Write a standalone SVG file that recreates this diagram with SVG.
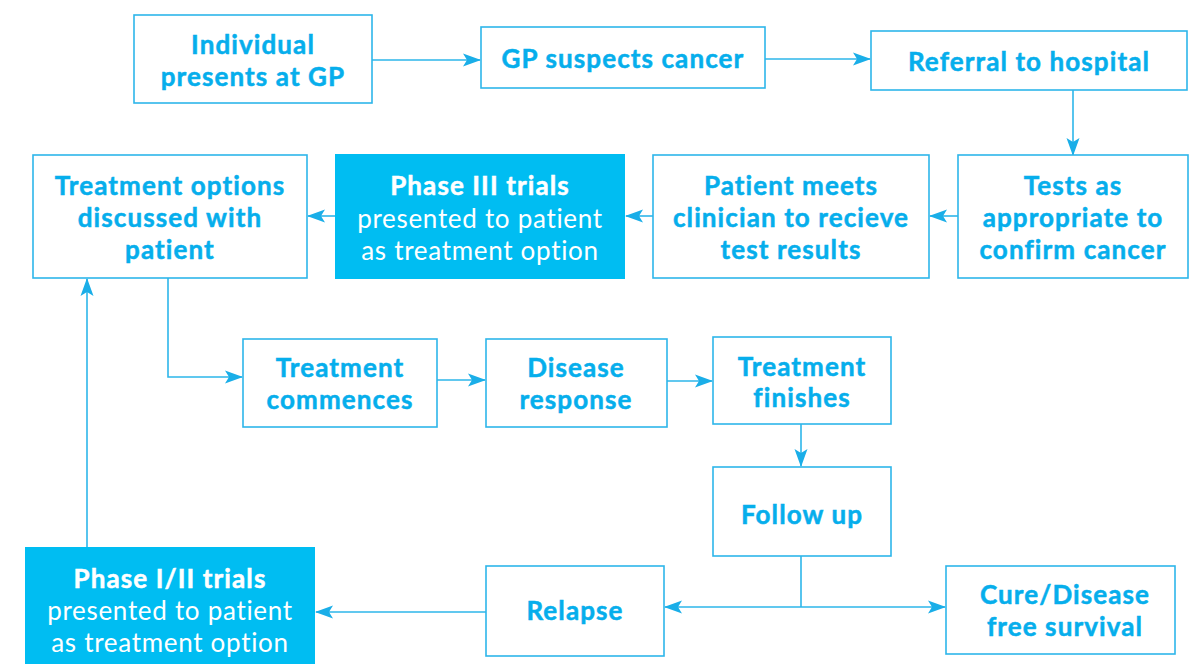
<svg xmlns="http://www.w3.org/2000/svg" width="1195" height="664" viewBox="0 0 1195 664">
  <style>
    .box { fill: #ffffff; stroke: #2db6ea; stroke-width: 1.6; }
    .hl { fill: #00bdf2; stroke: none; }
    .t { font-family: Lato, "Open Sans", "Liberation Sans", sans-serif; font-size: 26px; font-weight: 700; letter-spacing: 1.1px; fill: #06aeec; stroke: #06aeec; stroke-width: 0.5px; text-anchor: middle; }
    .w { font-family: Lato, "Open Sans", "Liberation Sans", sans-serif; font-size: 26px; fill: #ffffff; text-anchor: middle; }
    .wb { font-weight: 700; letter-spacing: 1.1px; stroke: #ffffff; stroke-width: 0.5px; }
    .wr { font-weight: 400; letter-spacing: 0.7px; }
    .line { fill: none; stroke: #2db6ea; stroke-width: 1.6; }
  </style>
  <defs>
    <marker id="arrow" markerUnits="userSpaceOnUse" markerWidth="18" markerHeight="14" refX="17" refY="7" orient="auto-start-reverse">
      <path d="M0,0.5 L18,7 L0,13.5 L4,7 Z" fill="#1aaee8"/>
    </marker>
  </defs>

  <rect width="1195" height="664" fill="#ffffff"/>

  <!-- connectors -->
  <g id="connectors">
    <path class="line" d="M372,60 H480" marker-end="url(#arrow)"/>
    <path class="line" d="M765,59 H870" marker-end="url(#arrow)"/>
    <path class="line" d="M1073,90 V155" marker-end="url(#arrow)"/>
    <path class="line" d="M958,216 H930" marker-end="url(#arrow)"/>
    <path class="line" d="M653,216 H626" marker-end="url(#arrow)"/>
    <path class="line" d="M335,216 H308" marker-end="url(#arrow)"/>
    <path class="line" d="M168,278 V377 H242" marker-end="url(#arrow)"/>
    <path class="line" d="M437,380 H485" marker-end="url(#arrow)"/>
    <path class="line" d="M667,381 H712" marker-end="url(#arrow)"/>
    <path class="line" d="M801,424 V466" marker-end="url(#arrow)"/>
    <path class="line" d="M801,556 V607"/>
    <path class="line" d="M665,607 H945" marker-start="url(#arrow)" marker-end="url(#arrow)"/>
    <path class="line" d="M486,612 H316" marker-end="url(#arrow)"/>
    <path class="line" d="M87,547 V279" marker-end="url(#arrow)"/>
  </g>

  <g id="individual-presents">
    <rect class="box" x="134" y="15" width="238" height="88"/>
    <text class="t" x="253" y="54">Individual</text>
    <text class="t" x="253" y="86">presents at GP</text>
  </g>

  <g id="gp-suspects">
    <rect class="box" x="481" y="27" width="284" height="61"/>
    <text class="t" x="623" y="68">GP suspects cancer</text>
  </g>

  <g id="referral">
    <rect class="box" x="871" y="31" width="316" height="59"/>
    <text class="t" x="1029" y="71">Referral to hospital</text>
  </g>

  <g id="tests">
    <rect class="box" x="958" y="155" width="230" height="123"/>
    <text class="t" x="1073" y="195">Tests as</text>
    <text class="t" x="1073" y="227">appropriate to</text>
    <text class="t" x="1073" y="259">confirm cancer</text>
  </g>

  <g id="patient-meets">
    <rect class="box" x="653" y="155" width="276" height="123"/>
    <text class="t" x="791" y="195">Patient meets</text>
    <text class="t" x="791" y="227">clinician to recieve</text>
    <text class="t" x="791" y="259">test results</text>
  </g>

  <g id="phase-3">
    <rect class="hl" x="335" y="154" width="290" height="125"/>
    <text class="w wb" x="480" y="195">Phase III trials</text>
    <text class="w wr" x="480" y="228">presented to patient</text>
    <text class="w wr" x="480" y="260">as treatment option</text>
  </g>

  <g id="treatment-options">
    <rect class="box" x="33" y="155" width="274" height="123"/>
    <text class="t" x="170" y="195">Treatment options</text>
    <text class="t" x="170" y="227">discussed with</text>
    <text class="t" x="170" y="259">patient</text>
  </g>

  <g id="treatment-commences">
    <rect class="box" x="243" y="339" width="194" height="88"/>
    <text class="t" x="340" y="377">Treatment</text>
    <text class="t" x="340" y="409">commences</text>
  </g>

  <g id="disease-response">
    <rect class="box" x="486" y="339" width="181" height="88"/>
    <text class="t" x="576" y="377">Disease</text>
    <text class="t" x="576" y="409">response</text>
  </g>

  <g id="treatment-finishes">
    <rect class="box" x="713" y="337" width="178" height="87"/>
    <text class="t" x="802" y="376">Treatment</text>
    <text class="t" x="802" y="407">finishes</text>
  </g>

  <g id="follow-up">
    <rect class="box" x="713" y="467" width="178" height="89"/>
    <text class="t" x="802" y="524">Follow up</text>
  </g>

  <g id="relapse">
    <rect class="box" x="486" y="566" width="178" height="90"/>
    <text class="t" x="575" y="620">Relapse</text>
  </g>

  <g id="cure">
    <rect class="box" x="946" y="566" width="229" height="88"/>
    <text class="t" x="1065" y="604">Cure/Disease</text>
    <text class="t" x="1065" y="636">free survival</text>
  </g>

  <g id="phase-1-2">
    <rect class="hl" x="25" y="547" width="290" height="117"/>
    <text class="w wb" x="170" y="588">Phase I/II trials</text>
    <text class="w wr" x="170" y="620">presented to patient</text>
    <text class="w wr" x="170" y="652">as treatment option</text>
  </g>
</svg>
